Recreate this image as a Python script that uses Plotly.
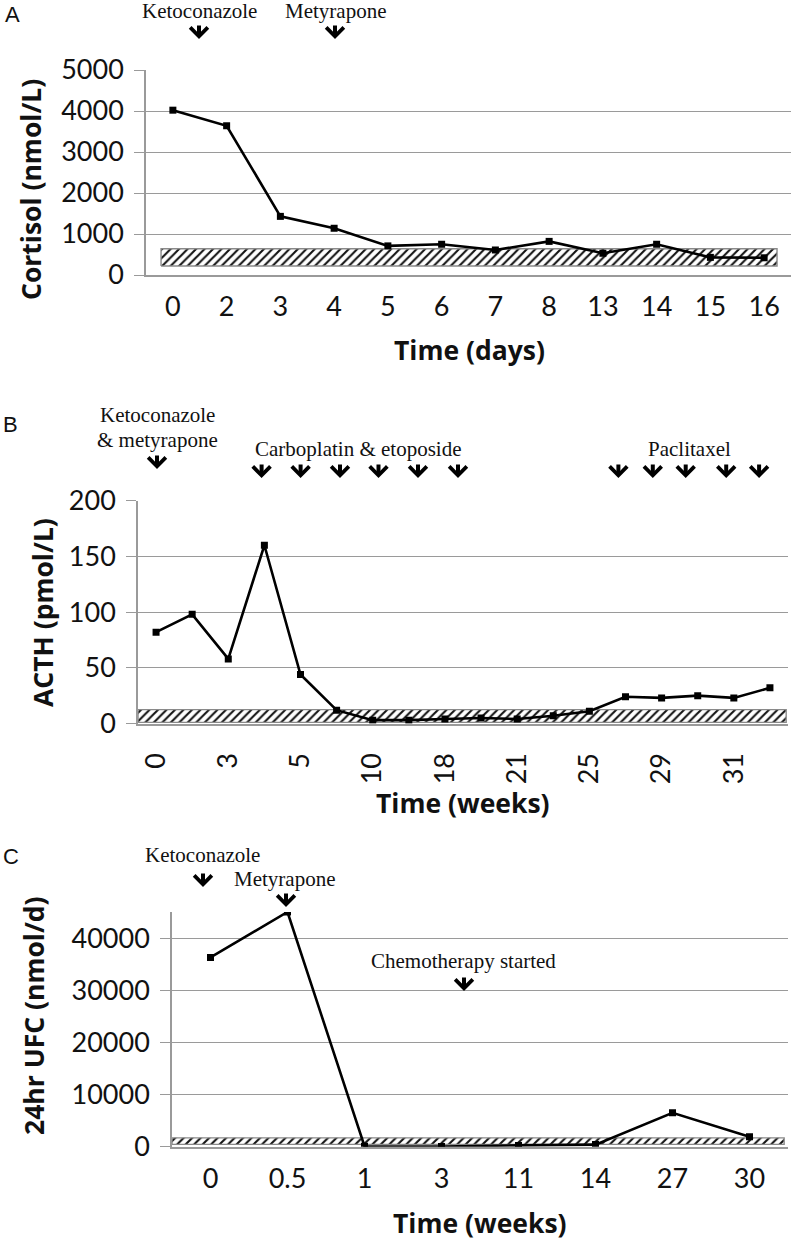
import plotly.graph_objects as go

# ---------------- data ----------------
days_labels = ["0", "2", "3", "4", "5", "6", "7", "8", "13", "14", "15", "16"]
cortisol = [4020, 3640, 1430, 1140, 710, 750, 610, 820, 530, 750, 430, 420]
cortisol_ref = [220, 640]
cortisol_ticks = [0, 1000, 2000, 3000, 4000, 5000]

acth_weeks = ["0", "1", "3", "4", "5", "7", "10", "14", "18", "19", "21", "23",
              "25", "27", "29", "30", "31", "33"]
acth_shown = ["0", "3", "5", "10", "18", "21", "25", "29", "31"]
acth = [82, 98, 58, 160, 44, 12, 3, 3, 4, 5, 4, 7, 11, 24, 23, 25, 23, 32]
acth_ref = [1, 12.5]
acth_ticks = [0, 50, 100, 150, 200]

ufc_weeks = ["0", "0.5", "1", "3", "11", "14", "27", "30"]
ufc = [36300, 45000, 100, 50, 250, 400, 6500, 1900]
ufc_ref = [450, 1700]
ufc_ticks = [0, 10000, 20000, 30000, 40000]

W, H = 793, 1240


def fx(p):
    return p / W


def fy(p):
    return 1 - p / H


TICKFONT = dict(family="Lato, 'Open Sans', sans-serif", size=27, color="#111")
TITLEFONT = dict(family="'Open Sans', Lato, sans-serif", size=26.5, color="#111")
SERIF = dict(family="'Liberation Serif', 'DejaVu Serif', serif", size=21, color="#111")
LETTER = dict(family="'Liberation Sans', Arial, sans-serif", size=22, color="#111")
GRID = "#9a9a9a"

fig = go.Figure()


def add_panel(n, values, ref, band_x, xa, ya):
    xs = list(range(n))
    # reference band (hatched)
    fig.add_trace(go.Scatter(
        x=[band_x[0], band_x[1], band_x[1], band_x[0], band_x[0]],
        y=[ref[0], ref[0], ref[1], ref[1], ref[0]],
        mode="lines", fill="toself",
        line=dict(color="#8a8a8a", width=1.4),
        fillcolor="white",
        fillpattern=dict(shape="/", fgcolor="#111", bgcolor="white",
                         size=6, solidity=0.35, fillmode="replace"),
        xaxis=xa, yaxis=ya, showlegend=False, hoverinfo="skip"))
    fig.add_trace(go.Scatter(
        x=xs, y=values, mode="lines+markers",
        line=dict(color="black", width=2.6),
        marker=dict(symbol="square", size=7, color="black"),
        xaxis=xa, yaxis=ya, showlegend=False))


add_panel(len(days_labels), cortisol, cortisol_ref, [-0.22, 11.24], "x", "y")
add_panel(len(acth_weeks), acth, acth_ref, [-0.5, 17.45], "x2", "y2")
add_panel(len(ufc_weeks), ufc, ufc_ref, [-0.5, 7.45], "x3", "y3")


def xaxis_cfg(n, labels, domain, anchor, tickangle=0, standoff=14, shown=None):
    if shown is None:
        tv = list(range(n))
        tt = labels
    else:
        tv = [labels.index(s) for s in shown]
        tt = shown
    return dict(domain=domain, anchor=anchor, range=[-0.5, n - 0.5],
                tickmode="array", tickvals=tv, ticktext=tt,
                showgrid=False, zeroline=False, showline=True,
                linecolor=GRID, linewidth=1.5, ticks="",
                tickfont=TICKFONT, tickangle=tickangle,
                ticklabelstandoff=standoff, automargin=False, fixedrange=True)


def yaxis_cfg(domain, anchor, rng, tickvals):
    return dict(domain=domain, anchor=anchor, range=rng,
                tickmode="array", tickvals=tickvals,
                ticktext=[str(v) for v in tickvals],
                showgrid=True, gridcolor=GRID, gridwidth=1.4,
                zeroline=False, showline=True, linecolor=GRID, linewidth=1.5,
                ticks="outside", ticklen=10, tickcolor=GRID, tickwidth=1.4,
                tickfont=TICKFONT, ticklabelstandoff=5, automargin=False,
                fixedrange=True)


fig.update_layout(
    width=W, height=H,
    margin=dict(l=0, r=0, t=0, b=0, autoexpand=False),
    paper_bgcolor="white", plot_bgcolor="white",
    xaxis=xaxis_cfg(len(days_labels), days_labels, [fx(146), fx(791)], "y", standoff=7),
    yaxis=yaxis_cfg([fy(275), fy(70)], "x", [0, 5000], cortisol_ticks),
    xaxis2=xaxis_cfg(len(acth_weeks), acth_weeks, [fx(138), fx(788)], "y2",
                     tickangle=-90, standoff=17, shown=acth_shown),
    yaxis2=yaxis_cfg([fy(723.5), fy(500.7)], "x2", [0, 200], acth_ticks),
    xaxis3=xaxis_cfg(len(ufc_weeks), ufc_weeks, [fx(172), fx(788)], "y3", standoff=7),
    yaxis3=yaxis_cfg([fy(1146.7), fy(912)], "x3", [0, 45000], ufc_ticks),
)

ann = []


def text(t, x, y, font, angle=0):
    ann.append(dict(text=t, x=fx(x), y=fy(y), xref="paper", yref="paper",
                    xanchor="center", yanchor="middle", showarrow=False,
                    font=font, textangle=angle))


def arrow(x, y_tip):
    ann.append(dict(text="", x=fx(x), y=fy(y_tip), xref="paper", yref="paper",
                    showarrow=True, ax=0, ay=-15, arrowhead=4, arrowsize=0.85,
                    arrowwidth=4, arrowcolor="black"))


# panel letters
text("A", 12, 15, LETTER)
text("B", 10, 424, LETTER)
text("C", 11, 856, LETTER)

# axis titles
text("<b>Cortisol (nmol/L)</b>", 31, 190, TITLEFONT, -90)
text("<b>Time (days)</b>", 469, 350, TITLEFONT)
text("<b>ACTH (pmol/L)</b>", 43, 613, TITLEFONT, -90)
text("<b>Time (weeks)</b>", 463, 803, TITLEFONT)
text("<b>24hr UFC (nmol/d)</b>", 34, 1016, TITLEFONT, -90)
text("<b>Time (weeks)</b>", 480, 1223, TITLEFONT)

# treatment annotations, panel A
text("Ketoconazole", 199, 11, SERIF)
arrow(199, 39)
text("Metyrapone", 335, 11, SERIF)
arrow(335, 39)

# panel B
text("Ketoconazole", 157, 415, SERIF)
text("&amp; metyrapone", 157, 440, SERIF)
arrow(157, 469)
text("Carboplatin &amp; etoposide", 358, 449, SERIF)
for xp in [261.6, 300.6, 340, 378.5, 418, 458]:
    arrow(xp, 478)
text("Paclitaxel", 689, 449, SERIF)
for xp in [618.4, 652.8, 685.7, 726.2, 759.1]:
    arrow(xp, 478)

# panel C
text("Ketoconazole", 202, 855, SERIF)
arrow(203, 887)
text("Metyrapone", 284, 879, SERIF)
arrow(286, 907)
text("Chemotherapy started", 463, 961, SERIF)
arrow(464, 991)

fig.update_layout(annotations=ann)

fig.write_html(
    "out.html",
    config={"displayModeBar": False},
    post_script="document.body.style.margin='0';document.body.style.overflow='hidden';",
)
